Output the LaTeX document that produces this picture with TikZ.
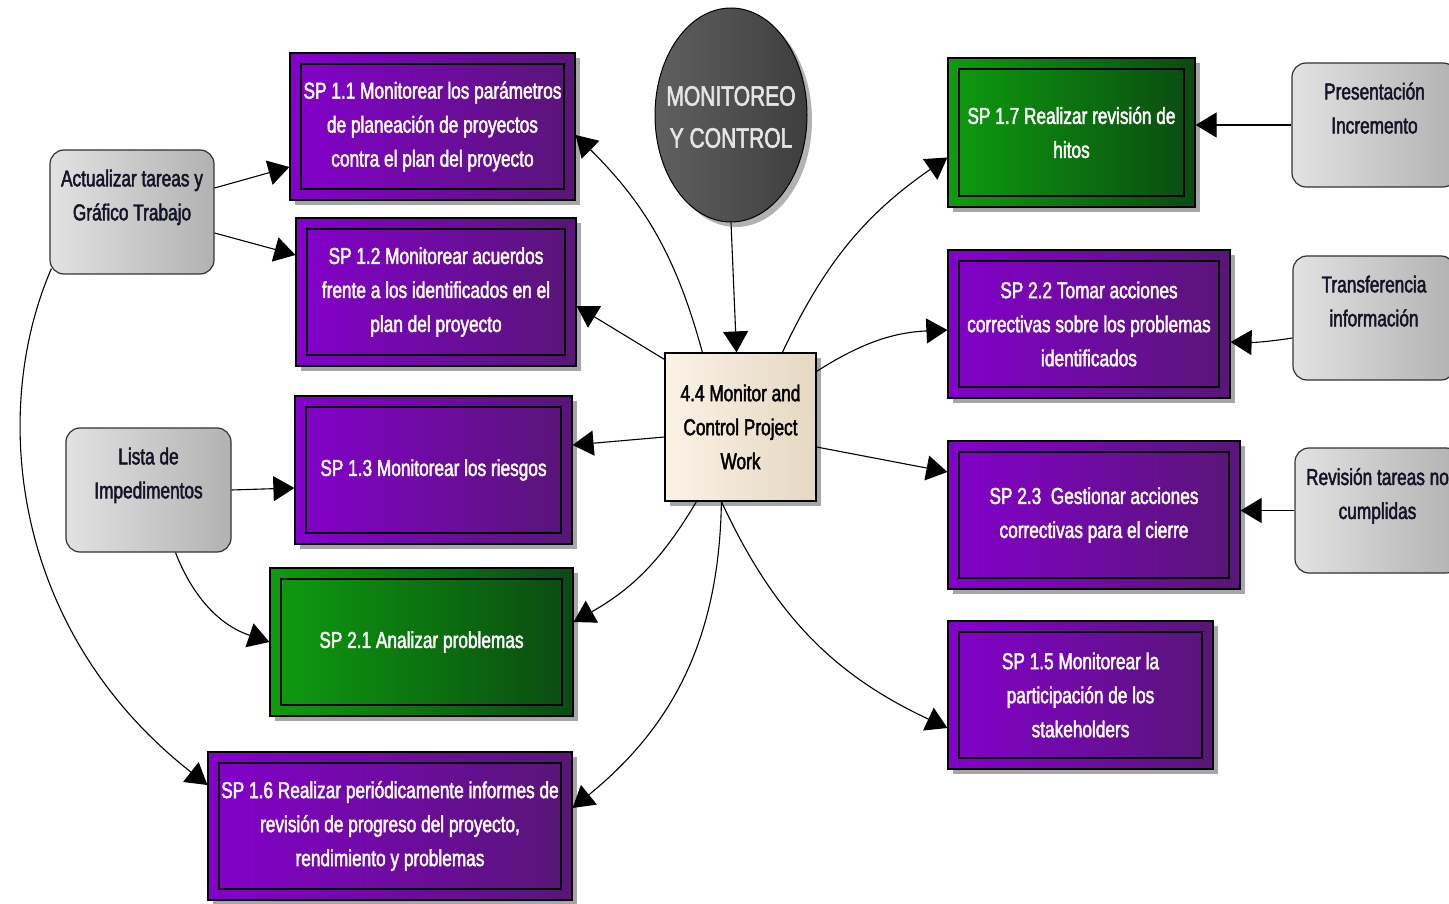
\documentclass[tikz,border=0pt]{standalone}
\usepackage{fontspec}
\setmainfont{Liberation Sans}[FakeStretch=0.75,FakeBold=2]
\usetikzlibrary{arrows.meta,shadows,shapes.geometric}
\definecolor{purpleL}{RGB}{132,0,204}
\definecolor{purpleR}{RGB}{88,22,118}
\definecolor{greenL}{RGB}{14,156,14}
\definecolor{greenR}{RGB}{10,74,18}
\definecolor{grayL}{RGB}{226,226,226}
\definecolor{grayR}{RGB}{178,178,178}
\definecolor{creamL}{RGB}{252,242,230}
\definecolor{creamR}{RGB}{228,216,194}
\definecolor{discL}{RGB}{96,96,96}
\definecolor{discR}{RGB}{62,62,62}
\definecolor{inkdark}{RGB}{20,20,40}
\begin{document}
\begin{tikzpicture}[x=1pt,y=-1pt,
  every node/.style={align=center},
  txt/.style={font=\fontsize{23}{34}\selectfont},
  framed/.style={draw=black, line width=1.2pt, rectangle, inner sep=0pt,
    drop shadow={shadow xshift=5pt, shadow yshift=-5pt, fill=black!35, opacity=1},
    path picture={\draw[line width=1.3pt]
      ([xshift=11pt,yshift=-11pt]path picture bounding box.north west) rectangle
      ([xshift=-11pt,yshift=11pt]path picture bounding box.south east);}},
  pbox/.style={framed, left color=purpleL, right color=purpleR, text=white, txt},
  gbox/.style={framed, left color=greenL, right color=greenR, text=white, txt},
  sbox/.style={draw=black!80, line width=1.2pt, rounded corners=14pt,
    left color=grayL, right color=grayR, text=inkdark, txt,
    minimum width=165pt, minimum height=124pt},
  link/.style={line width=1.1pt, -{Triangle[length=21pt,width=25pt]}},
]
\clip (0,0) rectangle (1449,904);

% central topic and its heading
\node[ellipse, draw=black, line width=1pt, left color=discL, right color=discR,
  minimum width=152pt, minimum height=214pt, inner sep=0pt,
  drop shadow={shadow xshift=5pt, shadow yshift=-5pt, fill=black!30, opacity=1}]
  (mc) at (731,115) {};
\node[text=black!10, font=\fontsize{28}{42}\selectfont] (mctext) at ([yshift=-2pt]mc.center)
  {MONITOREO\\Y CONTROL};
\node[draw=black, line width=1.2pt, left color=creamL, right color=creamR,
  minimum width=151pt, minimum height=148pt, inner sep=0pt, text=black, txt,
  drop shadow={shadow xshift=5pt, shadow yshift=-5pt, fill=black!35, opacity=1}]
  (c44) at (740.5,427) {4.4 Monitor and\\Control Project\\Work};

% specific practices, left column
\node[pbox, minimum width=285pt, minimum height=147pt] (sp11) at (432.5,126.5)
  {SP 1.1 Monitorear los parámetros\\de planeación de proyectos\\contra el plan del proyecto};
\node[pbox, minimum width=280pt, minimum height=148pt] (sp12) at (436,292)
  {SP 1.2 Monitorear acuerdos\\frente a los identificados en el\\plan del proyecto};
\node[pbox, minimum width=277pt, minimum height=148pt] (sp13) at (433.5,470)
  {SP 1.3 Monitorear los riesgos};
\node[gbox, minimum width=303pt, minimum height=148pt] (sp21) at (421.5,642)
  {SP 2.1 Analizar problemas};
\node[pbox, minimum width=364pt, minimum height=148pt] (sp16) at (390,826)
  {SP 1.6 Realizar periódicamente informes de\\revisión de progreso del proyecto,\\rendimiento y problemas};

% specific practices, right column
\node[gbox, minimum width=247pt, minimum height=149pt] (sp17) at (1071.5,132.5)
  {SP 1.7 Realizar revisión de\\hitos};
\node[pbox, minimum width=282pt, minimum height=148pt] (sp22) at (1089,324)
  {SP 2.2 Tomar acciones\\correctivas sobre los problemas\\identificados};
\node[pbox, minimum width=292pt, minimum height=148pt] (sp23) at (1094,515)
  {SP 2.3\ \ Gestionar acciones\\correctivas para el cierre};
\node[pbox, minimum width=265pt, minimum height=148pt] (sp15) at (1080.5,695)
  {SP 1.5 Monitorear la\\participación de los\\stakeholders};

% agile inputs
\node[sbox, minimum width=164pt] (act) at (132,212) {Actualizar tareas y\\Gráfico Trabajo\\\phantom{x}};
\node[sbox] (lista) at (148.5,490) {Lista de\\Impedimentos\\\phantom{x}};
\node[sbox] (pres) at (1374.5,125) {Presentación\\Incremento\\\phantom{x}};
\node[sbox, minimum width=162pt] (trans) at (1374,318) {Transferencia\\información\\\phantom{x}};
\node[sbox, minimum height=125pt] (rev) at (1377.5,510.5) {Revisión tareas no\\cumplidas\\\phantom{x}};

% connectors from the central process
\draw[link] (mc.south) -- ([xshift=-4pt]c44.north);
\draw[link] ([xshift=38pt]c44.north west) to[bend right=15] ([yshift=-8.5pt]sp11.east);
\draw[link] ([yshift=-7pt]c44.north west) -- ([yshift=-14pt]sp12.east);
\draw[link] ([yshift=-10pt]c44.west) -- ([yshift=25pt]sp13.east);
\draw[link] ([xshift=32pt]c44.south west) to[bend left=15] ([yshift=20pt]sp21.east);
\draw[link] ([xshift=57pt]c44.south west) to[bend left=25] ([yshift=18pt]sp16.east);
\draw[link] ([xshift=57pt]c44.south west) to[bend right=20] ([yshift=-33pt]sp15.west);
\draw[link] ([yshift=-20pt]c44.east) -- ([yshift=43pt]sp23.west);
\draw[link] ([yshift=-19pt]c44.north east) to[bend left=15] ([yshift=-6pt]sp22.west);
\draw[link] ([xshift=118pt]c44.north west) to[bend left=15] ([yshift=-25pt]sp17.west);

% connectors from the agile inputs
\draw[link] (pres.west) -- (pres.west -| sp17.east);
\draw[link] ([yshift=-20pt]trans.west) to[bend left=5] ([yshift=-18pt]sp22.east);
\draw[link] (rev.west) -- (rev.west -| sp23.east);
\draw[link] ([yshift=24pt]act.east) -- ([yshift=-40.5pt]sp11.west);
\draw[link] ([yshift=-21pt]act.east) -- ([yshift=37pt]sp12.west);
\draw[link] ([xshift=2pt,yshift=6pt]act.south west) .. controls (-10,410) and (10,630) .. ([yshift=41pt]sp16.west);
\draw[link] (lista.east) -- ([yshift=-18pt]sp13.west);
\draw[link] ([xshift=27pt]lista.south) to[bend right=25] (sp21.west);
\end{tikzpicture}
\end{document}
